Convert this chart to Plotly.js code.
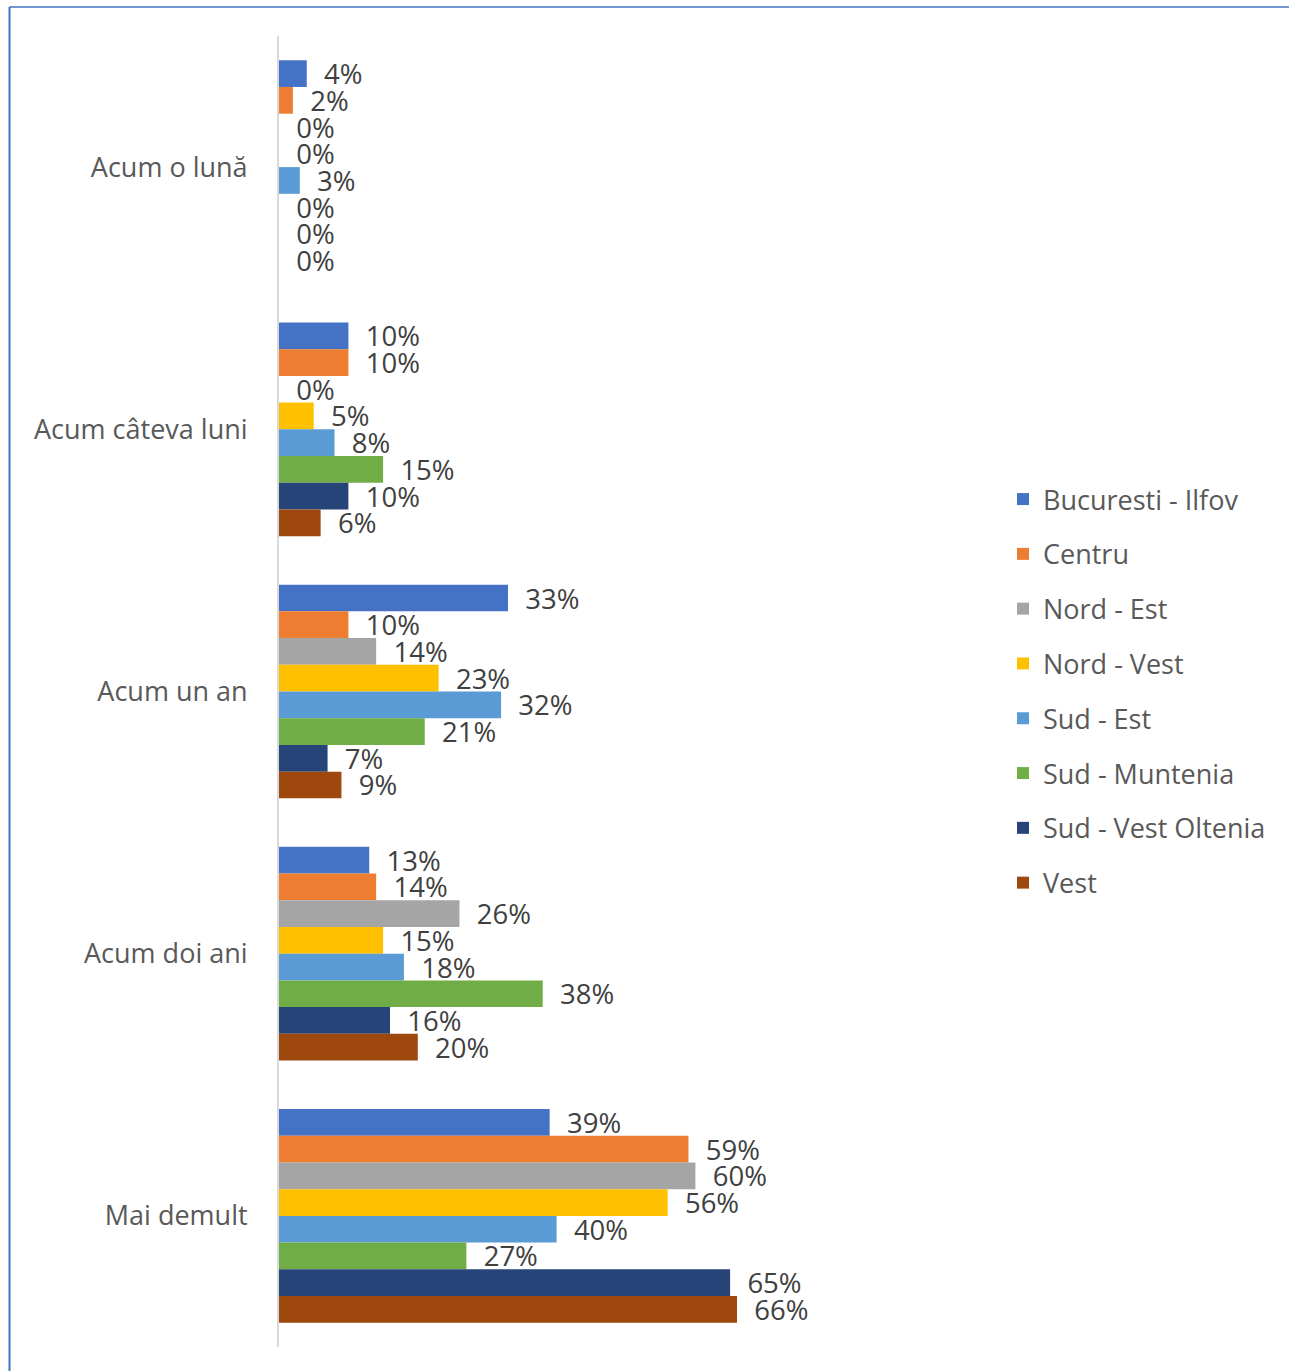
<!DOCTYPE html>
<html><head><meta charset="utf-8">
<script src="https://cdn.plot.ly/plotly-3.0.1.min.js"></script>
<style>html,body{margin:0;padding:0;background:#fff}#chart{width:1289px;height:1371px}</style>
</head><body><div id="chart"></div>
<script>
const categories = ["Acum o lună", "Acum câteva luni", "Acum un an", "Acum doi ani", "Mai demult"];
const seriesNames = ["Bucuresti - Ilfov", "Centru", "Nord - Est", "Nord - Vest", "Sud - Est", "Sud - Muntenia", "Sud - Vest Oltenia", "Vest"];
const bucurestiIlfov = [4, 10, 33, 13, 39];
const centru = [2, 10, 10, 14, 59];
const nordEst = [0, 0, 14, 26, 60];
const nordVest = [0, 5, 23, 15, 56];
const sudEst = [3, 8, 32, 18, 40];
const sudMuntenia = [0, 15, 21, 38, 27];
const sudVestOltenia = [0, 10, 7, 16, 65];
const vest = [0, 6, 9, 20, 66];
const seriesValues = [bucurestiIlfov, centru, nordEst, nordVest, sudEst, sudMuntenia, sudVestOltenia, vest];
const colors = ["#4472C4", "#ED7D31", "#A5A5A5", "#FFC000", "#5B9BD5", "#70AD47", "#264478", "#9E480E"];

const FONT = "'Open Sans', 'Noto Sans', sans-serif";
const traces = seriesNames.map((name, i) => ({
  type: "bar", orientation: "h", name: name,
  y: categories, x: seriesValues[i],
  marker: {color: colors[i]},
  text: seriesValues[i].map(v => "  " + v + "%"),
  textposition: "outside", cliponaxis: false, constraintext: "none",
  textfont: {family: FONT, size: 27.5, color: "#404040"},
  legendgroup: "g" + i,
  hoverinfo: "x+name"
}));

const L = 279, R = 289, T = 36, B = 24;
const W = 1289 - L - R, H = 1371 - T - B;
const px = p => (p - L) / W, py = p => (1371 - B - p) / H;

const layout = {
  width: 1289, height: 1371,
  margin: {l: L, r: R, t: T, b: B, pad: 0},
  paper_bgcolor: "#fff", plot_bgcolor: "#fff",
  barmode: "group", bargap: 0.185, bargroupgap: 0,
  font: {family: FONT, color: "#595959"},
  xaxis: {range: [0, W / 6.94], showgrid: false, zeroline: false, showticklabels: false, ticks: "", showline: false, fixedrange: true},
  yaxis: {autorange: "reversed", type: "category", showgrid: false, zeroline: false, showline: true, linecolor: "#d9d9d9", linewidth: 2,
          ticks: "", ticklabelstandoff: 24, tickfont: {family: FONT, size: 27, color: "#595959"}},
  showlegend: true,
  legend: {x: px(1003), xanchor: "left", y: py(475), yanchor: "top", font: {family: FONT, size: 27, color: "#595959"},
           tracegroupgap: 16.7, traceorder: "grouped", bgcolor: "rgba(0,0,0,0)"},
  shapes: [
    {type: "line", xref: "paper", yref: "paper", x0: px(9.5), x1: px(1295), y0: py(7), y1: py(7), line: {color: "#4472C4", width: 1.5}},
    {type: "line", xref: "paper", yref: "paper", x0: px(9.5), x1: px(9.5), y0: py(7), y1: py(1375), line: {color: "#4472C4", width: 2}}
  ]
};
Plotly.newPlot("chart", traces, layout, {displayModeBar: false, staticPlot: true});
</script></body></html>
